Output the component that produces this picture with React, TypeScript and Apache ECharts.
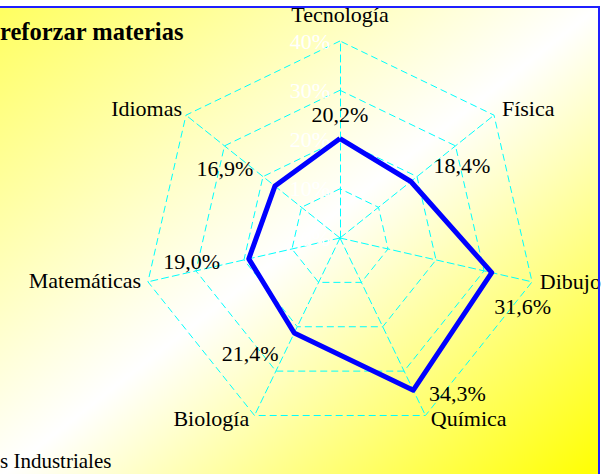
import React, { useEffect, useRef } from "react";
import * as echarts from "echarts";

// Data (indicator order follows ECharts' counter-clockwise placement from the top)
const categories = ["Tecnología", "Idiomas", "Matemáticas", "Biología", "Química", "Dibujo", "Física"];
const values = [20.2, 16.9, 19.0, 21.4, 34.3, 31.6, 18.4];
const axisMax = 40;
const axisSplits = 4;
const titleText = "reforzar materias";
const legendText = "s Industriales";

// Style only: value-label offsets from their points
const labelOffsets: [number, number][] = [
  [0, -24],
  [-50, -18],
  [-57, 3],
  [-44, 21],
  [44, 3],
  [31, 34],
  [51, -16],
];
// Style only: per-axis name gap, vertical anchoring, line height and horizontal padding
const nameGaps = [16, 5, 7, 3, 3, 8, 5];
const nameVAligns: (string | null)[] = [null, "bottom", "bottom", null, null, "bottom", "bottom"];
const nameLineHeights: (number | null)[] = [null, 8, 5, null, null, 4, 8];
const namePads: (number[] | null)[] = [null, null, null, [0, 4, 0, 0], [0, 0, 0, 4], null, [0, 0, 0, 4]];

const FONT = "'Liberation Serif', 'Times New Roman', serif";
const fmt = (v: number) => v.toFixed(1).replace(".", ",") + "%";

export default function App() {
  const ref = useRef<HTMLDivElement>(null);
  useEffect(() => {
    if (!ref.current) return;
    const chart = echarts.init(ref.current, null, { renderer: "svg" });
    const formatted = values.map(fmt);
    const gridLine = { color: "#00FFFF", width: 1, type: [7, 4] as number[] };
    chart.setOption({
      animation: false,
      backgroundColor: "#ffffff",
      graphic: [
        {
          type: "rect",
          z: -10,
          silent: true,
          shape: { x: 0, y: 7, width: 599, height: 470 },
          style: {
            fill: new echarts.graphic.LinearGradient(0, 0, 1, 1, [
              { offset: 0, color: "#ffff60" },
              { offset: 0.5, color: "#ffffff" },
              { offset: 1, color: "#ffff00" },
            ]),
          },
        },
        {
          type: "line",
          z: 50,
          silent: true,
          shape: { x1: 0, y1: 7, x2: 600, y2: 7 },
          style: { stroke: "#1f1fff", lineWidth: 2 },
        },
        {
          type: "line",
          z: 50,
          silent: true,
          shape: { x1: 599, y1: 6, x2: 599, y2: 474 },
          style: { stroke: "#1f1fff", lineWidth: 2 },
        },
        {
          type: "text",
          z: 60,
          left: 0,
          top: 19,
          style: {
            text: titleText,
            fill: "#000",
            font: `bold 24.5px ${FONT}`,
          },
        },
        {
          type: "text",
          z: 60,
          left: 0,
          top: 450,
          style: {
            text: legendText,
            fill: "#000",
            font: `21px ${FONT}`,
          },
        },
      ],
      radar: {
        center: [340, 238],
        radius: 197,
        startAngle: 90,
        splitNumber: axisSplits,
        shape: "polygon",
        nameGap: 13,
        axisName: {
          color: "#000",
          fontSize: 22,
          fontFamily: FONT,
        },
        indicator: categories.map((name, i) => {
          const nts: any = {};
          if (nameVAligns[i]) nts.verticalAlign = nameVAligns[i];
          if (nameLineHeights[i]) nts.lineHeight = nameLineHeights[i];
          if (namePads[i]) nts.padding = namePads[i];
          const base: any = {
            name,
            min: 0,
            max: axisMax,
            nameGap: nameGaps[i],
            nameTextStyle: nts,
          };
          if (i === 0) {
            base.axisLabel = {
              show: true,
              color: "#ffffff",
              fontSize: 22,
              fontFamily: FONT,
              margin: 10,
              formatter: "{value}%",
            };
          }
          return base;
        }),
        axisLine: { lineStyle: gridLine },
        splitLine: { lineStyle: gridLine },
        splitArea: { show: false },
        axisTick: { show: false },
      },
      series: [
        {
          type: "radar",
          z: 5,
          symbol: "circle",
          symbolSize: 1,
          itemStyle: { color: "#0000FF" },
          lineStyle: { color: "#0000FF", width: 5 },
          label: {
            show: true,
            position: "inside",
            color: "#000",
            fontSize: 22,
            fontFamily: FONT,
            formatter: (p: any) => fmt(Number(p.value)),
          },
          labelLayout: (params: any) => {
            const idx = formatted.indexOf(params.text);
            const off = idx >= 0 ? labelOffsets[idx] : [0, 0];
            return { dx: off[0], dy: off[1] };
          },
          data: [{ value: values, name: "Materias" }],
        },
      ],
    });
    return () => chart.dispose();
  }, []);
  return (
    <div
      ref={ref}
      style={{ position: "absolute", left: 0, top: 0, width: 608, height: 474 }}
    />
  );
}
